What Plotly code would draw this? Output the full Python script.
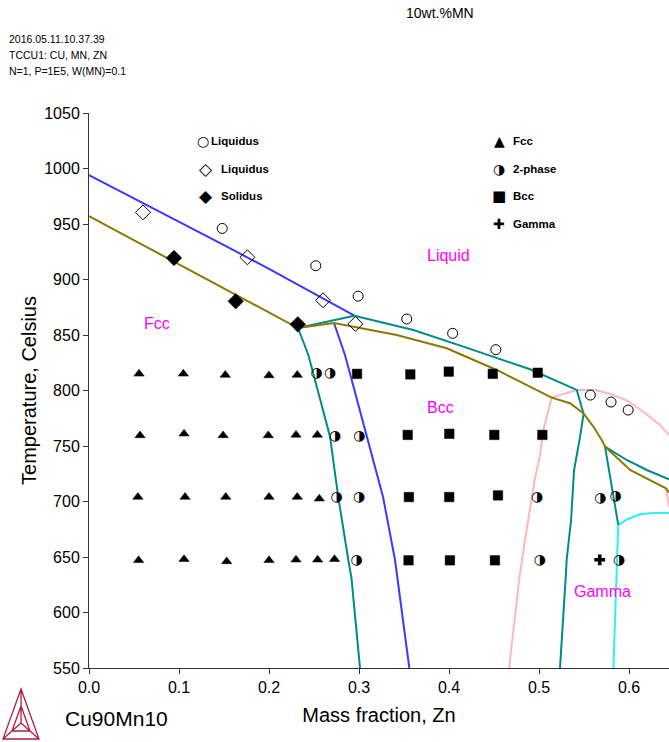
import plotly.graph_objects as go

# ---------------- data ----------------
# experimental points (x = mass fraction Zn, T = Celsius)
liq_circ_x = [0.148, 0.252, 0.299, 0.353, 0.404, 0.452, 0.557, 0.580, 0.599]
liq_circ_T = [946.0, 912.4, 885.0, 864.4, 851.5, 836.8, 795.9, 789.6, 782.4]

liq_dia_x = [0.060, 0.176, 0.260, 0.296]
liq_dia_T = [960.5, 920.0, 881.3, 860.0]

sol_dia_x = [0.0944, 0.163, 0.232]
sol_dia_T = [919.4, 880.4, 859.6]

fcc_x = [0.0556, 0.1048, 0.1514, 0.2000, 0.2314,
         0.0567, 0.1056, 0.1490, 0.1992, 0.2300, 0.2537,
         0.0543, 0.1067, 0.1519, 0.2000, 0.2314, 0.2559,
         0.0551, 0.1056, 0.1530, 0.2000, 0.2300, 0.2540, 0.2728]
fcc_T = [815.0, 815.0, 814.0, 813.5, 814.0,
         759.5, 761.0, 759.5, 759.5, 760.0, 760.0,
         704.0, 704.0, 704.0, 704.0, 704.0, 702.5,
         647.0, 648.0, 646.0, 647.0, 647.5, 647.5, 648.0]

two_x = [0.2530, 0.2678, 0.2733, 0.3003, 0.2751, 0.3000, 0.4980, 0.5680, 0.5850,
         0.2972, 0.5010, 0.5890]
two_T = [815.5, 815.0, 759.0, 758.5, 704.0, 704.0, 704.0, 703.0, 704.5,
         647.0, 647.0, 647.0]

bcc_x = [0.2978, 0.3570, 0.3997, 0.4486, 0.4986,
         0.3541, 0.4003, 0.4503, 0.5037,
         0.3554, 0.4002, 0.4544,
         0.3550, 0.4010, 0.4510]
bcc_T = [815.0, 814.5, 817.0, 815.0, 816.0,
         760.0, 761.0, 760.0, 760.0,
         704.0, 704.0, 705.5,
         647.0, 647.0, 647.0]

gam_x = [0.5674]
gam_T = [647.5]

# calculated phase boundaries
blue_liq_x = [0.0, 0.05, 0.10, 0.15, 0.20, 0.25, 0.2948]
blue_liq_T = [994.0, 973.0, 952.5, 931.0, 909.5, 887.0, 867.4]

blue_bcc_x = [0.2722, 0.2844, 0.2919, 0.3086, 0.3144, 0.3211, 0.3267, 0.3400, 0.3559]
blue_bcc_T = [860.8, 832.0, 809.5, 758.4, 741.9, 719.4, 704.1, 647.3, 550.0]

olive_x = [0.0, 0.10, 0.20, 0.2322, 0.2722, 0.3419, 0.3974, 0.4530, 0.5141, 0.5344,
           0.5492, 0.5600, 0.5697, 0.5733, 0.5974, 0.6011, 0.6411, 0.6444]
olive_T = [957.0, 913.5, 870.3, 856.3, 860.8, 850.0, 838.0, 818.5, 793.6, 788.5,
           779.5, 768.0, 755.4, 749.4, 731.4, 728.4, 711.9, 708.0]

teal_3ph_x = [0.2322, 0.2948]
teal_3ph_T = [856.3, 867.4]

teal_bcc_x = [0.2948, 0.3604, 0.4159, 0.4900, 0.5419, 0.5495, 0.5456, 0.5389,
              0.5356, 0.5307, 0.5296, 0.5233]
teal_bcc_T = [867.4, 854.5, 839.5, 819.1, 800.5, 779.0, 758.4, 728.0,
              683.3, 647.3, 631.1, 550.0]

teal_fcc_x = [0.2322, 0.2437, 0.2511, 0.2678, 0.2743, 0.2770, 0.2881, 0.2916, 0.3011]
teal_fcc_T = [856.3, 832.0, 809.5, 758.4, 719.4, 703.8, 647.3, 631.1, 550.0]

teal_r_x = [0.5733, 0.5974, 0.6197, 0.6444]
teal_r_T = [749.4, 737.4, 728.4, 720.0]

teal_dn_x = [0.5733, 0.5880]
teal_dn_T = [749.4, 679.0]

cyan_dn_x = [0.5880, 0.5861, 0.5826]
cyan_dn_T = [679.0, 631.1, 550.0]

cyan_r_x = [0.5880, 0.5977, 0.6122, 0.6267, 0.6444]
cyan_r_T = [679.0, 683.8, 688.5, 689.7, 689.7]

pink_x = [0.4667, 0.4782, 0.4844, 0.4951, 0.5011, 0.5048, 0.5141, 0.5419, 0.5622,
          0.5800, 0.5989, 0.6178, 0.6344, 0.6444]
pink_T = [550.0, 631.1, 665.3, 719.4, 741.9, 764.4, 793.6, 800.5, 800.5,
          796.8, 790.5, 779.7, 768.9, 760.0]

pink_r_x = [0.6411, 0.6444]
pink_r_T = [711.9, 695.0]

x_ticks = [0.0, 0.1, 0.2, 0.3, 0.4, 0.5, 0.6]
y_ticks = [550, 600, 650, 700, 750, 800, 850, 900, 950, 1000, 1050]

# ---------------- styles ----------------
BLUE = "#3a3aff"
OLIVE = "#8f7800"
TEAL = "#008b8b"
PINK = "#ffb6c1"
CYAN = "#2ef0f0"
MAGENTA = "#ff00ff"
LW = 2

fig = go.Figure()

def add_line(x, y, color):
    fig.add_trace(go.Scatter(x=x, y=y, mode="lines", line=dict(color=color, width=LW),
                             showlegend=False, hoverinfo="skip"))

add_line(pink_x, pink_T, PINK)
add_line(pink_r_x, pink_r_T, PINK)
add_line(cyan_dn_x, cyan_dn_T, CYAN)
add_line(cyan_r_x, cyan_r_T, CYAN)
add_line(blue_liq_x, blue_liq_T, BLUE)
add_line(blue_bcc_x, blue_bcc_T, BLUE)
add_line(teal_3ph_x, teal_3ph_T, TEAL)
add_line(teal_bcc_x, teal_bcc_T, TEAL)
add_line(teal_fcc_x, teal_fcc_T, TEAL)
add_line(teal_r_x, teal_r_T, TEAL)
add_line(teal_dn_x, teal_dn_T, TEAL)
add_line(olive_x, olive_T, OLIVE)

def add_markers(x, y, symbol, size, name, lw=1.0):
    fig.add_trace(go.Scatter(x=x, y=y, mode="markers", name=name, showlegend=False,
                             marker=dict(symbol=symbol, size=size, color="black",
                                         line=dict(color="black", width=lw))))

add_markers(liq_circ_x, liq_circ_T, "circle-open", 10, "Liquidus")
add_markers(liq_dia_x, liq_dia_T, "diamond-open", 11.5, "Liquidus")
add_markers(sol_dia_x, sol_dia_T, "diamond", 12, "Solidus", 0.5)
add_markers(fcc_x, fcc_T, "triangle-up", 9, "Fcc", 0.5)
add_markers(bcc_x, bcc_T, "square", 9.5, "Bcc", 0.5)
add_markers(gam_x, gam_T, "cross", 9, "Gamma", 0)

fig.add_trace(go.Scatter(x=two_x, y=two_T, mode="text", text=["\u25d1"] * len(two_x),
                         textposition="middle center", name="2-phase", showlegend=False,
                         textfont=dict(family="DejaVu Sans", size=14, color="black")))

# ---------------- annotations ----------------
ann = []
FONT = "Liberation Sans, Arial, sans-serif"

# region labels
for txt, x, y in [("Liquid", 0.399, 922), ("Fcc", 0.0756, 860.8),
                  ("Bcc", 0.391, 784.7), ("Gamma", 0.5706, 618.7)]:
    ann.append(dict(text=txt, x=x, y=y, xref="x", yref="y", showarrow=False,
                    xanchor="center", yanchor="middle",
                    font=dict(family=FONT, size=16, color=MAGENTA)))

# legend (glyph + label)
legend_left = [("\u25cb", "Liquidus", 1024.8, 0.1267, 0.1345, 14),
               ("\u25c7", "Liquidus", 999.5, 0.1300, 0.1456, 17),
               ("\u25c6", "Solidus", 975.2, 0.1300, 0.1456, 17)]
for g, t, y, gx, tx, gs in legend_left:
    ann.append(dict(text=g, x=gx, y=y, xref="x", yref="y", showarrow=False,
                    xanchor="center", yanchor="middle", borderpad=0,
                    font=dict(family="DejaVu Sans", size=gs, color="black")))
    ann.append(dict(text="<b>" + t + "</b>", x=tx, y=y, xref="x", yref="y", showarrow=False,
                    xanchor="left", yanchor="middle", borderpad=0,
                    font=dict(family=FONT, size=11.5, color="black")))
legend_right = [("\u25b2", "Fcc", 1024.8, 14), ("\u25d1", "2-phase", 999.5, 14),
                ("\u25a0", "Bcc", 975.2, 15), ("\u271a", "Gamma", 950.0, 14)]
for g, t, y, gs in legend_right:
    ann.append(dict(text=g, x=0.4559, y=y, xref="x", yref="y", showarrow=False,
                    xanchor="center", yanchor="middle", borderpad=0,
                    font=dict(family="DejaVu Sans", size=gs, color="black")))
    ann.append(dict(text="<b>" + t + "</b>", x=0.4700, y=y, xref="x", yref="y", showarrow=False,
                    xanchor="left", yanchor="middle", borderpad=0,
                    font=dict(family=FONT, size=11.5, color="black")))

# header texts
ann.append(dict(text="10wt.%MN", x=0.605, y=1.1802, xref="paper", yref="paper",
                showarrow=False, xanchor="center", yanchor="middle",
                font=dict(family=FONT, size=14, color="black")))
for t, y in [("2016.05.11.10.37.39", 1.1333), ("TCCU1: CU, MN, ZN", 1.1045),
             ("N=1, P=1E5, W(MN)=0.1", 1.0757)]:
    ann.append(dict(text=t, x=-0.1397, y=y, xref="paper", yref="paper", showarrow=False,
                    xanchor="left", yanchor="middle", borderpad=0,
                    font=dict(family=FONT, size=10.5, color="black")))
ann.append(dict(text="Cu90Mn10", x=-0.0431, y=-0.0901, xref="paper", yref="paper",
                showarrow=False, xanchor="left", yanchor="middle", borderpad=0,
                font=dict(family=FONT, size=21, color="black")))

# Thermo-Calc style logo
LOGO = "#b01e45"
logo_path = ("M -0.1172 -0.0378 L -0.1483 -0.1279 L -0.0862 -0.1279 Z "
             "M -0.1172 -0.0378 L -0.1172 -0.0991 "
             "M -0.1483 -0.1279 L -0.1172 -0.0991 "
             "M -0.0862 -0.1279 L -0.1172 -0.0991 "
             "M -0.1172 -0.0685 L -0.1328 -0.1135 L -0.1017 -0.1135 Z")
shapes = [dict(type="path", path=logo_path, xref="paper", yref="paper",
               line=dict(color=LOGO, width=1.3))]

axis_common = dict(showline=True, linecolor="#333333", linewidth=1, ticks="outside",
                   ticklen=5, tickwidth=1, tickcolor="#333333", showgrid=False,
                   zeroline=False, mirror=False,
                   tickfont=dict(family=FONT, size=16, color="black"))

fig.update_layout(
    width=669, height=742,
    margin=dict(l=89, r=0, t=113, b=74, pad=0),
    paper_bgcolor="white", plot_bgcolor="white",
    showlegend=False,
    annotations=ann, shapes=shapes,
    xaxis=dict(range=[0, 0.6444], tickvals=x_ticks, tickformat=".1f",
               title=dict(text="Mass fraction, Zn", font=dict(family=FONT, size=20, color="black"),
                          standoff=12),
               **axis_common),
    yaxis=dict(range=[550, 1050], tickvals=y_ticks,
               title=dict(text="Temperature, Celsius", font=dict(family=FONT, size=20, color="black"),
                          standoff=2),
               **axis_common),
)

fig.write_html("out.html")
